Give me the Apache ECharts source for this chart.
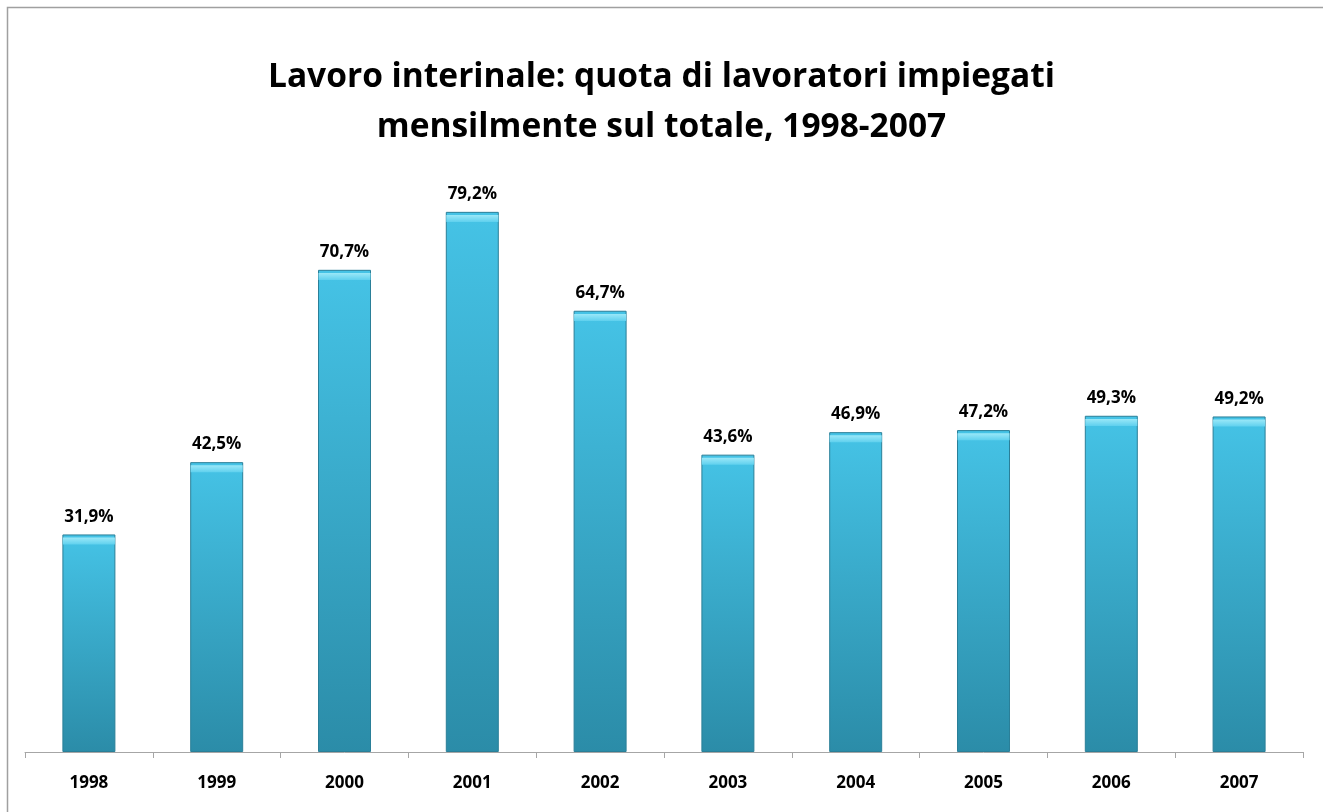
<!DOCTYPE html>
<html>
<head>
<meta charset="utf-8">
<script src="https://cdn.jsdelivr.net/npm/echarts@6/dist/echarts.min.js"></script>
<style>
  html, body { margin: 0; padding: 0; background: #fff; }
  #chart { width: 1323px; height: 812px; }
</style>
</head>
<body>
<div id="chart"></div>
<script>
// dati
var anni = ['1998', '1999', '2000', '2001', '2002', '2003', '2004', '2005', '2006', '2007'];
var quote = [31.9, 42.5, 70.7, 79.2, 64.7, 43.6, 46.9, 47.2, 49.3, 49.2];

var chart = echarts.init(document.getElementById('chart'));

var option = {
  backgroundColor: '#fff',
  animation: false,
  title: {
    text: 'Lavoro interinale: quota di lavoratori impiegati\nmensilmente sul totale, 1998-2007',
    left: 'center',
    top: 47,
    textStyle: {
      fontFamily: 'Open Sans',
      fontWeight: 'bold',
      fontSize: 33.5,
      lineHeight: 50,
      color: '#000'
    }
  },
  grid: {
    left: 25,
    right: 20,
    top: 70,
    bottom: 60
  },
  xAxis: {
    type: 'category',
    data: anni,
    axisLine: { lineStyle: { color: '#a6a6a6', width: 1 } },
    axisTick: { show: true, length: 6, lineStyle: { color: '#a6a6a6' } },
    axisLabel: {
      margin: 23,
      fontFamily: 'Open Sans',
      fontWeight: 'bold',
      fontSize: 17,
      color: '#000'
    }
  },
  yAxis: {
    type: 'value',
    min: 0,
    max: 100,
    show: false
  },
  series: [
    {
      type: 'bar',
      data: quote,
      barWidth: 53,
      itemStyle: {
        color: new echarts.graphic.LinearGradient(0, 0, 0, 1, [
          { offset: 0, color: '#45c3e6' },
          { offset: 1, color: '#2b8ca8' }
        ]),
        borderColor: '#2a7f98',
        borderWidth: 1
      },
      label: {
        show: true,
        position: 'top',
        distance: 9,
        formatter: function (p) {
          return p.value.toFixed(1).replace('.', ',') + '%';
        },
        fontFamily: 'Open Sans',
        fontWeight: 'bold',
        fontSize: 17,
        color: '#000'
      },
      z: 2
    },
    {
      // smusso chiaro in cima alle barre
      type: 'pictorialBar',
      data: quote,
      symbol: 'rect',
      symbolSize: [52, 7],
      symbolPosition: 'end',
      symbolOffset: [0, '45%'],
      itemStyle: {
        color: new echarts.graphic.LinearGradient(0, 0, 0, 1, [
          { offset: 0, color: '#9ae8f8' },
          { offset: 1, color: '#5fd0ee' }
        ])
      },
      z: 3,
      silent: true
    }
  ],
  graphic: [
    {
      type: 'polyline',
      shape: { points: [[7.5, 812], [7.5, 7.5], [1323, 7.5]] },
      style: { stroke: '#a0a0a0', lineWidth: 1.5, fill: null },
      silent: true
    }
  ]
};

chart.setOption(option);
</script>
</body>
</html>
